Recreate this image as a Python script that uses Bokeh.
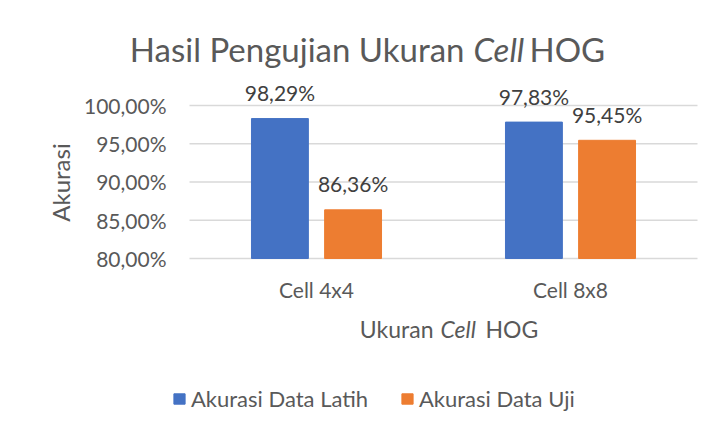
import math
from bokeh.plotting import figure
from bokeh.models import Range1d, Legend, LegendItem, ColumnDataSource
from bokeh.core.properties import value
from bokeh.embed import file_html
from bokeh.resources import INLINE

# ---- data ----
categories = ["Cell 4x4", "Cell 8x8"]
train_acc = [98.29, 97.83]
test_acc = [86.36, 95.45]
train_labels = ["98,29%", "97,83%"]
test_labels = ["86,36%", "95,45%"]
y_ticks = [80, 85, 90, 95, 100]
y_tick_labels = ["80,00%", "85,00%", "90,00%", "95,00%", "100,00%"]
series_names = ["Akurasi Data Latih", "Akurasi Data Uji"]

FONT = "Lato"
TXT = "#595959"
BLUE = "#4472C4"
ORANGE = "#ED7D31"

# The plotting frame covers the whole canvas so that no text is clipped;
# category i occupies the data interval [i, i+1].
p = figure(width=699, height=416,
           x_range=Range1d(-0.7441, 2.0079),
           y_range=Range1d(59.346, 113.725),
           x_axis_type=None, y_axis_type=None,
           output_backend="svg", toolbar_location=None,
           min_border=0)
p.background_fill_color = "white"
p.border_fill_color = "white"
p.outline_line_color = None

n = len(categories)
centers = [i + 0.5 for i in range(n)]
off = 0.144
bw = 0.224

src = ColumnDataSource(dict(
    c=centers,
    xl=[c - off for c in centers], xr=[c + off for c in centers],
    train=train_acc, test=test_acc,
    train_lbl=train_labels, test_lbl=test_labels, cat=categories))

y0 = y_ticks[0]
# gridlines
p.segment(x0=[0] * len(y_ticks), x1=[n] * len(y_ticks), y0=y_ticks, y1=y_ticks,
          line_color="#d9d9d9", line_width=1.5)

r1 = p.vbar(x="xl", top="train", bottom=y0, width=bw, source=src,
            fill_color=BLUE, line_color=BLUE)
r2 = p.vbar(x="xr", top="test", bottom=y0, width=bw, source=src,
            fill_color=ORANGE, line_color=ORANGE)

common = dict(text_font=value(FONT))
for xc, col in (("xl", "train"), ("xr", "test")):
    p.text(x=xc, y=col, text=col + "_lbl", source=src, text_align="center",
           text_baseline="middle", y_offset=-26, text_font_size="21px",
           text_color="#404040", **common)

# y tick labels
p.text(x=[-0.0906] * len(y_ticks), y=y_ticks, text=y_tick_labels,
       text_align="right", text_baseline="middle", text_font_size="21px",
       text_color=TXT, **common)
# category labels
p.text(x="c", y=76.01, text="cat", source=src, text_align="center",
       text_baseline="middle", text_font_size="21px", text_color=TXT,
       **common)

def t(x, y, text, size, align="left", style="normal", angle=0):
    p.text(x=[x], y=[y], text=[text], text_align=align, text_baseline="middle",
           text_font_size=size, text_color=TXT, text_font_style=style,
           angle=angle, **common)

# title
t(1.0827, 107.32, "Hasil Pengujian Ukuran", "33px", align="right")
t(1.1181, 107.32, "Cell", "33px", style="italic")
t(1.3386, 107.32, "HOG", "33px")
# x axis title
t(0.9606, 70.78, "Ukuran", "23px", align="right")
t(0.9882, 70.78, "Cell", "23px", style="italic")
t(1.1654, 70.78, "HOG", "23px")
# y axis title
t(-0.5079, 89.93, "Akurasi", "24px", align="center", angle=math.pi / 2)

# legends
for rend, name, lx in ((r1, series_names[0], 172), (r2, series_names[1], 400)):
    lg = Legend(items=[LegendItem(label=name, renderers=[rend])],
                location=(lx, 4), orientation="horizontal",
                border_line_color=None, background_fill_alpha=0,
                padding=0, margin=0, glyph_width=14, glyph_height=13,
                label_standoff=5, label_text_font=FONT,
                label_text_font_size="22px", label_text_color=TXT)
    p.add_layout(lg, "center")

open("out.html", "w").write(file_html(p, INLINE))
